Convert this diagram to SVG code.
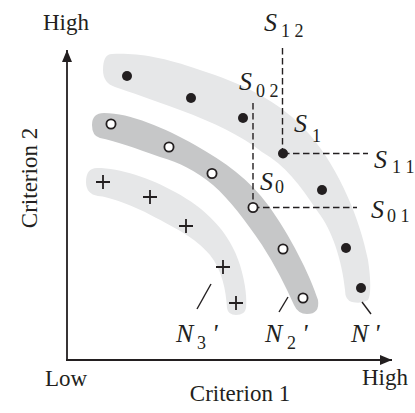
<svg xmlns="http://www.w3.org/2000/svg" width="415" height="413" viewBox="0 0 415 413">
<style>
.t{font-family:"Liberation Serif","Times New Roman",serif;font-size:23px;fill:#231f20}
.it{font-family:"Liberation Serif","Times New Roman",serif;font-style:italic;font-size:26px;fill:#231f20}
.sub{font-family:"Liberation Serif","Times New Roman",serif;font-size:18px;fill:#231f20}
.axis{stroke:#231f20;stroke-width:1.8;fill:none}
.dash{stroke:#231f20;stroke-width:1.4;stroke-dasharray:6.5,3.5;fill:none}
.lead{stroke:#231f20;stroke-width:1.4;fill:none}
.light{fill:#e6e7e8}
.dark{fill:#c6c7c8}
.dot{fill:#231f20}
.ring{fill:#fff;stroke:#231f20;stroke-width:1.8}
.cross{stroke:#231f20;stroke-width:1.8}
</style>
<defs>
<marker id="ah" markerWidth="12" markerHeight="10" refX="12" refY="5" orient="auto" markerUnits="userSpaceOnUse">
<path d="M0,0 L12,5 L0,10 Z" fill="#231f20"/>
</marker>
</defs>
<rect width="415" height="413" fill="#fff"/>
<g id="band-N1">
<path class="light" d="M112,54 C135,53 160,56 200,70 C240,83 280,100 310,135 C340,170 360,220 368,260 C371,280 371,295 368,300 Q362,304 352,302 Q345,300 345,290 C342,260 332,230 318,212 C300,185 285,165 262,152 C240,135 215,123 180,110 C150,99 130,92 115,87 Q103,83 103,70 Q103,54 112,54 Z"/>
</g>
<g id="band-N2">
<path class="dark" d="M104,113 C130,113 165,128 195,145 C225,162 250,180 268,205 C290,235 310,275 318,300 Q320,314 307,314 Q298,314 294,305 C285,285 275,265 262,245 C245,220 230,200 213,185 C195,170 180,163 160,157 C135,148 115,141 100,138 Q92,136 92,125 Q92,113 104,113 Z"/>
</g>
<g id="band-N3">
<path class="light" d="M97,168 C120,168 150,178 175,192 C205,208 230,232 240,265 C246,285 247,300 246,308 Q245,315 236,315 Q228,315 227,308 C226,290 222,270 210,255 C195,237 175,228 145,212 C125,203 110,197 98,196 Q86,194 86,182 Q86,168 97,168 Z"/>
</g>
<g id="connectors">
<line class="axis" x1="67" y1="360" x2="67" y2="50" marker-end="url(#ah)"/>
<line class="axis" x1="66" y1="360" x2="392" y2="360" marker-end="url(#ah)"/>
<line class="dash" x1="282.5" y1="48" x2="282.5" y2="153.5"/>
<line class="dash" x1="283" y1="153.5" x2="368" y2="153.5"/>
<line class="dash" x1="253" y1="103" x2="253" y2="207.5"/>
<line class="dash" x1="253" y1="207.5" x2="357" y2="207.5"/>
<line class="lead" x1="197" y1="309" x2="211" y2="284"/>
<line class="lead" x1="279" y1="312" x2="288" y2="297"/>
<line class="lead" x1="362" y1="302" x2="371" y2="314"/>
</g>
<g id="points-N1">
<circle class="dot" cx="127" cy="76" r="5"/>
<circle class="dot" cx="191" cy="98" r="5"/>
<circle class="dot" cx="243" cy="118" r="5"/>
<circle class="dot" cx="283" cy="153.5" r="5"/>
<circle class="dot" cx="322" cy="190" r="5"/>
<circle class="dot" cx="346" cy="248" r="5"/>
<circle class="dot" cx="361" cy="288" r="5"/>
</g>
<g id="points-N2">
<circle class="ring" cx="111" cy="124" r="4.6"/>
<circle class="ring" cx="169" cy="147" r="4.6"/>
<circle class="ring" cx="212" cy="173.5" r="4.6"/>
<circle class="ring" cx="253" cy="207.5" r="4.6"/>
<circle class="ring" cx="283" cy="249" r="4.6"/>
<circle class="ring" cx="303" cy="298" r="4.6"/>
</g>
<g id="points-N3">
<path class="cross" d="M96,182h14M103,175v14 M143,197h14M150,190v14 M179,226h14M186,219v14 M216,267h14M223,260v14 M229,303h14M236,296v14"/>
</g>
<g id="labels">
<text class="t" x="43" y="30">High</text>
<text class="t" x="45" y="386">Low</text>
<text class="t" x="362" y="385">High</text>
<text class="t" x="240" y="401" text-anchor="middle">Criterion 1</text>
<text class="t" transform="translate(37,178) rotate(-90)" text-anchor="middle">Criterion 2</text>
<text class="it" x="264" y="31">S</text><text class="sub" x="281" y="37">1 2</text>
<text class="it" x="239" y="90">S</text><text class="sub" x="256" y="97">0 2</text>
<text class="it" x="294" y="132">S</text><text class="sub" x="312" y="142">1</text>
<text class="it" x="374" y="168">S</text><text class="sub" x="392" y="173">1 1</text>
<text class="it" x="260" y="190">S</text><text class="sub" x="275" y="193">0</text>
<text class="it" x="371" y="218">S</text><text class="sub" x="387" y="222">0 1</text>
<text class="it" x="176" y="342">N</text><text class="sub" x="197" y="349">3</text><text class="it" x="212" y="342">'</text>
<text class="it" x="265" y="342">N</text><text class="sub" x="287" y="349">2</text><text class="it" x="302" y="342">'</text>
<text class="it" x="351" y="342">N</text><text class="it" x="374" y="342">'</text>
</g>
</svg>
